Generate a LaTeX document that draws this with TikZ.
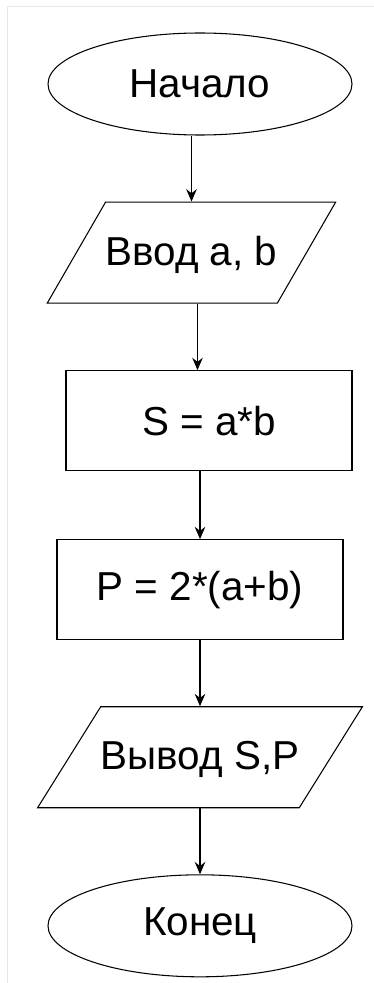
\documentclass[tikz,border=0pt]{standalone}
\usepackage{fontspec}
\setmainfont{Liberation Sans}
\usetikzlibrary{arrows.meta,shapes.geometric,positioning}
\definecolor{frm}{RGB}{232,232,232}
\tikzset{
  term/.style={ellipse,draw,line width=0.6pt,minimum width=6.08cm,
    minimum height=2.04cm,inner sep=0pt,font=\fontsize{23}{27}\selectfont},
  proc/.style={rectangle,draw,line width=0.6pt,minimum width=5.72cm,
    minimum height=2.0cm,inner sep=0pt,font=\fontsize{23}{27}\selectfont},
  io/.style={trapezium,trapezium left angle=#1,trapezium right angle=180-#1,
    trapezium stretches body=true,draw,line width=0.6pt,
    text height=0.6cm,text depth=0.1cm,inner xsep=0pt,inner ysep=0.66cm,
    font=\fontsize{23}{27}\selectfont},
  io/.default=60,
  arr/.style={-{Stealth[length=7pt,width=6pt]},line width=0.6pt},
}
\begin{document}
\begin{tikzpicture}[node distance=1.33cm]

    \useasboundingbox (0,0) rectangle (7.48,-19.66);
    \draw[frm,line width=0.5pt] (0.14,-20) -- (0.14,-0.12) -- (7.6,-0.12);

    % ── blocks ─────────────────────────────────────────────────────────────
    \node[term] (start) at (4.0,-1.68) {Начало};
    \node[io,minimum width=5.7cm,below=1.32cm of start,xshift=-0.17cm] (inp) {Ввод a, b};
    \node[proc,below=of inp,xshift=0.35cm] (sq) {S = a*b};
    \node[proc,below=1.36cm of sq,xshift=-0.18cm] (per) {P = 2*(a+b)};
    \node[io=58,minimum width=6.36cm,below=1.32cm of per] (outp) {Вывод S,P};
    \node[term,below=1.32cm of outp] (fin) {Конец};

    % ── arrows ─────────────────────────────────────────────────────────────
    \draw[arr] (inp.north |- start.south) -- (inp.north);
    \draw[arr] ([xshift=0.12cm]inp.south) -- ([xshift=0.12cm]inp.south |- sq.north);
    \draw[arr] (per.north |- sq.south) -- (per.north);
    \draw[arr] (per.south) -- (per.south |- outp.north);
    \draw[arr] (outp.south) -- (fin.north);

  \end{tikzpicture}
\end{document}
